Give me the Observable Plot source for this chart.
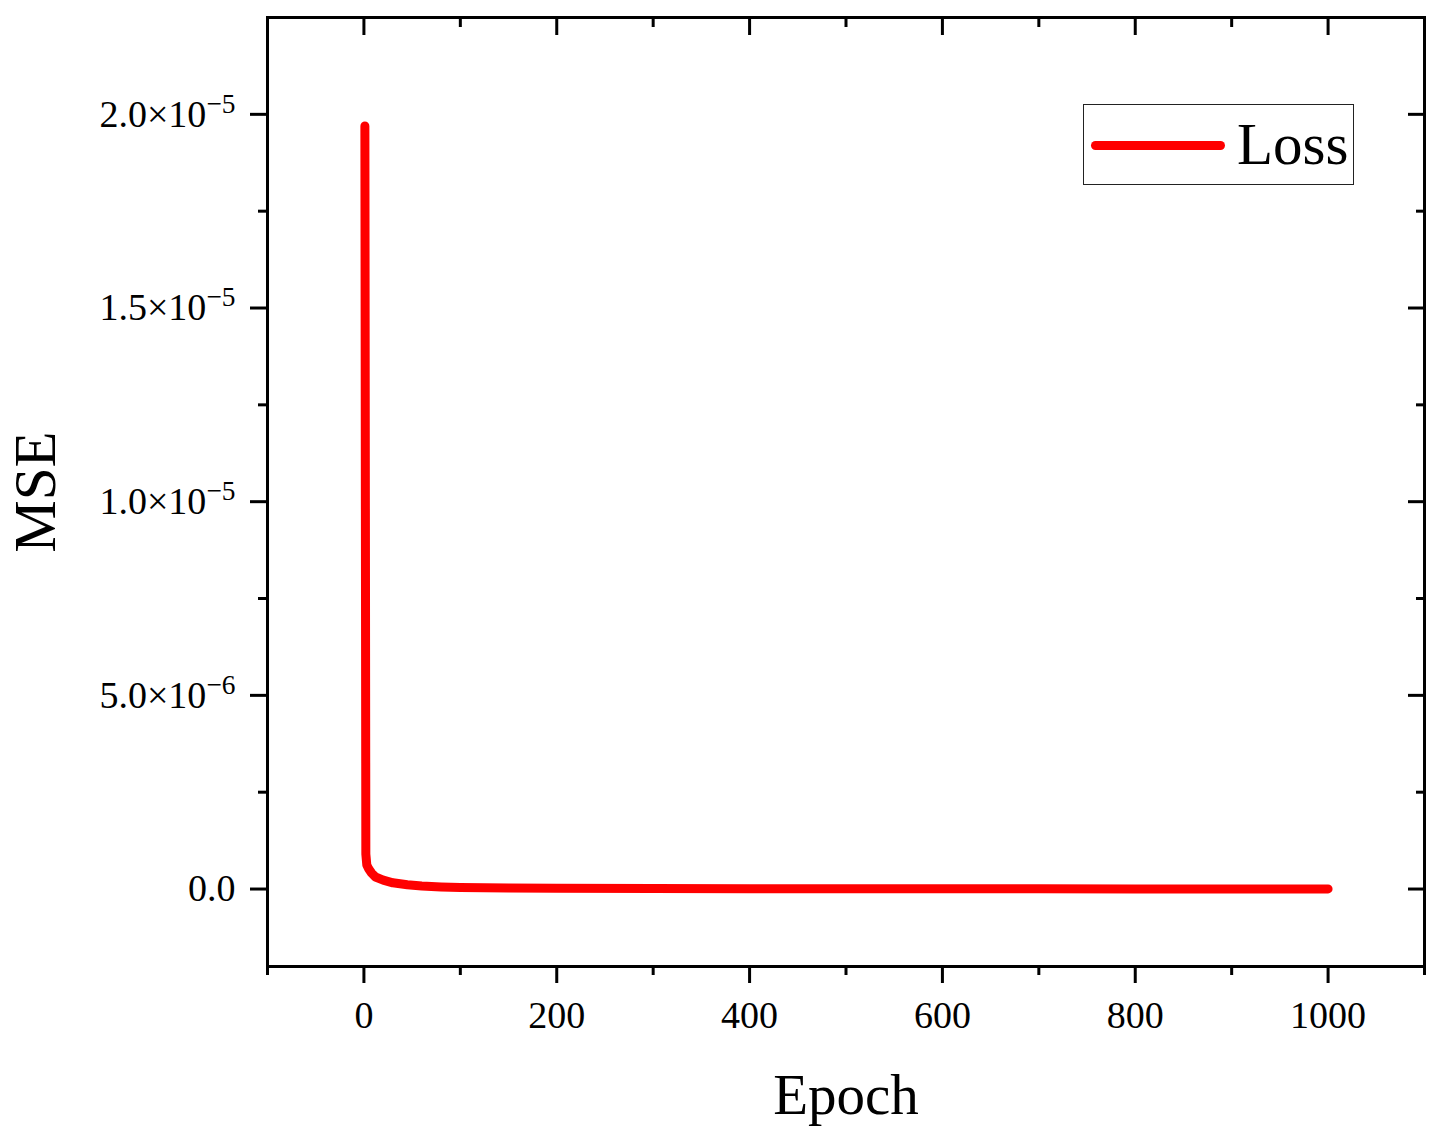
<!DOCTYPE html>
<html><head><meta charset="utf-8">
<script src="https://cdn.jsdelivr.net/npm/d3@7"></script>
<script src="https://cdn.jsdelivr.net/npm/@observablehq/plot@0.6"></script>
<style>
body{margin:0;background:#fff;}
#wrap{position:relative;width:1439px;height:1135px;font-family:"Liberation Serif","Times New Roman",serif;}
#legend{position:absolute;left:1083px;top:104px;width:269px;height:79px;border:1.5px solid #222;background:#fff;}
#legend .bar{position:absolute;left:7px;top:36px;width:134px;height:9px;border-radius:5px;background:#ff0000;}
#legend .lab{position:absolute;left:153px;top:8px;font-size:59px;line-height:62px;color:#000;}
</style></head><body><div id="wrap"></div>
<script>
const epochs = [1, 2, 3, 5, 8, 12, 20, 30, 45, 60, 80, 100, 150, 200, 300, 400, 500, 600, 700, 800, 900, 1000];
const mse = [1.97e-5, 9.0e-7, 6.2e-7, 5.2e-7, 4.1e-7, 3.1e-7, 2.3e-7, 1.6e-7, 1.1e-7, 8.0e-8, 5.5e-8, 4.0e-8, 2.5e-8, 1.8e-8, 1.2e-8, 9e-9, 7e-9, 6e-9, 5e-9, 4e-9, 3.5e-9, 3e-9];
const xTicks = [0, 200, 400, 600, 800, 1000];
const xMinor = [-100, 100, 300, 500, 700, 900, 1100];
const yTicks = [0, 5e-6, 1e-5, 1.5e-5, 2e-5];
const yTickLabels = ["0.0", "5.0×10^−6", "1.0×10^−5", "1.5×10^−5", "2.0×10^−5"];
const yMinor = [2.5e-6, 7.5e-6, 1.25e-5, 1.75e-5];
const seriesName = "Loss";
const xTitle = "Epoch";
const yTitle = "MSE";

const data = epochs.map((e, i) => ({epoch: e, mse: mse[i]}));
const font = '"Liberation Serif","Times New Roman",serif';

const chart = Plot.plot({
  width: 1439,
  height: 1135,
  marginLeft: 267,
  marginRight: 15,
  marginTop: 17,
  marginBottom: 169,
  style: {fontFamily: font, background: "#fff", color: "#000"},
  x: {domain: [-100, 1100]},
  y: {domain: [-2e-6, 2.25e-5]},
  marks: [
    Plot.line(data, {x: "epoch", y: "mse", stroke: "#ff0000", strokeWidth: 9, strokeLinecap: "round", strokeLinejoin: "round"}),
    // bottom axis
    Plot.axisX({anchor: "bottom", ticks: xTicks, tickSize: 17, tickPadding: 18, strokeWidth: 3, fontSize: 38, tickFormat: d => String(d), label: null}),
    Plot.axisX({anchor: "bottom", ticks: xMinor, tickSize: 9, strokeWidth: 3, text: null, label: null}),
    // top axis (inward)
    Plot.axisX({anchor: "top", ticks: xTicks, tickSize: -17, strokeWidth: 3, text: null, label: null}),
    Plot.axisX({anchor: "top", ticks: xMinor, tickSize: -9, strokeWidth: 3, text: null, label: null}),
    // left axis
    Plot.axisY({anchor: "left", ticks: yTicks, tickSize: 17, tickPadding: 15, strokeWidth: 3, fontSize: 38, tickFormat: d => yTickLabels[yTicks.indexOf(d)], label: null}),
    Plot.axisY({anchor: "left", ticks: yMinor, tickSize: 9, strokeWidth: 3, text: null, label: null}),
    // right axis (inward)
    Plot.axisY({anchor: "right", ticks: yTicks, tickSize: -17, strokeWidth: 3, text: null, label: null}),
    Plot.axisY({anchor: "right", ticks: yMinor, tickSize: -9, strokeWidth: 3, text: null, label: null}),
    Plot.frame({stroke: "#000", strokeWidth: 3}),
    Plot.text([xTitle], {frameAnchor: "bottom", textAnchor: "middle", lineAnchor: "middle", dy: 129, fontSize: 57, fill: "#000"}),
    Plot.text([yTitle], {frameAnchor: "left", textAnchor: "middle", lineAnchor: "middle", dx: -231, rotate: -90, fontSize: 59, fill: "#000"})
  ]
});

// superscript formatting for y tick labels
d3.select(chart).selectAll('g[aria-label="y-axis tick label"] text').each(function() {
  const t = d3.select(this);
  const s = t.text();
  if (s.includes("^")) {
    const [base, exp] = s.split("^");
    t.text(null);
    t.append("tspan").text(base);
    t.append("tspan").attr("dy", "-0.5em").attr("font-size", "0.72em").text(exp);
  }
});

const wrap = document.getElementById("wrap");
wrap.appendChild(chart);
const legend = document.createElement("div");
legend.id = "legend";
legend.innerHTML = '<div class="bar"></div><div class="lab"></div>';
legend.querySelector(".lab").textContent = seriesName;
wrap.appendChild(legend);
</script>
</body></html>
